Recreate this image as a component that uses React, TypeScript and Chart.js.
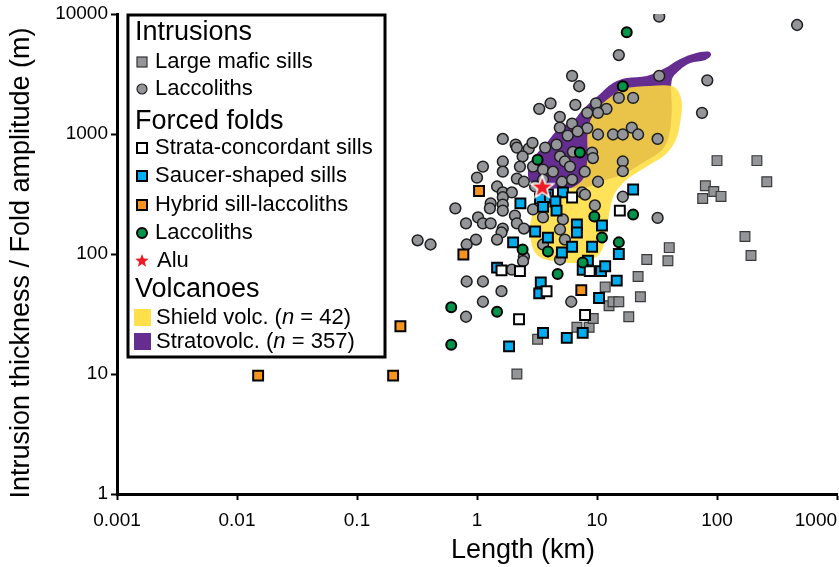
import React, { useEffect, useRef } from 'react';
import { Chart, registerables } from 'chart.js';
Chart.register(...registerables);

const FONT = "'Liberation Sans', Arial, Helvetica, sans-serif";

const xTicks = [0.001, 0.01, 0.1, 1, 10, 100, 1000];
const xTickLabels = ['0.001', '0.01', '0.1', '1', '10', '100', '1000'];
const yTicks = [1, 10, 100, 1000, 10000];
const yTickLabels = ['1', '10', '100', '1000', '10000'];
const xTitle = 'Length (km)';
const yTitle = 'Intrusion thickness / Fold amplitude (m)';

// [length km, thickness m]
const largeMaficSills: [number, number][] = [
  [2.15, 10], [3.2, 19.5], [6.8, 24.5], [8.6, 24.5], [9.3, 29], [12.6, 37], [13.6, 40], [15.2, 40],
  [23, 44], [18.4, 30], [11.7, 53], [22, 65], [26, 90], [39, 88], [40, 113], [76, 290], [80, 370],
  [94, 332], [108, 302], [100, 600], [215, 600], [260, 400], [171, 140], [192, 97],
];

const intrusionLaccoliths: [number, number][] = [
  [465, 8100], [33, 9500], [15.2, 4550], [6.2, 3050], [7.1, 2500], [33, 3050], [83, 2800], [75, 1500],
  [4.1, 1800], [3.3, 1620], [6.6, 1750], [9.8, 1800], [15.2, 2000], [20, 2000], [12, 1620], [10.2, 1500],
  [8.3, 1500], [4.9, 1390], [4.9, 1130], [6.2, 1220], [8.3, 1120], [19.5, 1130],
  [1.64, 910], [2.1, 815], [2.15, 770], [2.7, 755], [2.4, 650], [1.12, 535], [1.64, 590], [1.64, 485],
  [2.28, 535], [2.15, 425], [2.46, 400], [1.0, 433], [1.47, 365], [1.64, 326], [1.95, 326], [1.64, 297],
  [1.3, 264], [1.28, 240], [1.64, 258], [1.64, 230], [0.66, 240], [1.02, 202], [0.81, 180], [1.12, 180],
  [1.3, 180], [2.07, 209], [2.15, 180], [2.46, 163], [1.64, 163], [1.6, 151], [1.47, 132], [0.98, 132],
  [0.32, 130], [0.41, 120], [0.82, 120], [2.46, 95],
  [0.82, 59], [1.12, 59], [1.6, 49], [1.12, 40], [0.81, 30], [1.95, 74], [2.42, 87], [4.92, 90], [6.1, 40],
  [5.7, 970], [6.9, 1050], [10.2, 990], [13.6, 990], [16.4, 990], [22, 990], [32, 910], [2.9, 845],
  [3.7, 770], [4.6, 815], [4.92, 650], [6.3, 710], [9.1, 700], [9.25, 630], [16.4, 590], [16.4, 490],
  [2.93, 535], [3.55, 505], [4.3, 485], [5.4, 590], [5.96, 535], [7.9, 485], [5.1, 400], [6.2, 417],
  [3.55, 417], [10.2, 400], [3.05, 365], [7.5, 326], [7.95, 313], [16.4, 300], [2.93, 235], [9.6, 254],
  [32, 200], [3.55, 202], [5.2, 194], [4.92, 160], [5.4, 132], [3.55, 120],
];

const strataConcordantSills: [number, number][] = [
  [6.2, 296], [15.5, 230], [2.24, 28.6], [1.6, 73], [2.28, 72], [8.7, 72], [3.8, 49], [7.95, 31],
];

const saucerShapedSills: [number, number][] = [
  [2.3, 264], [2.0, 125], [1.47, 77], [1.85, 17], [8.4, 88], [7.6, 74], [10.8, 72], [11.7, 79],
  [3.4, 58], [3.3, 47], [14.6, 60], [10.4, 43], [7.6, 22], [5.6, 20], [3.55, 22], [5.2, 326],
  [3.9, 313], [20, 345], [3.7, 296], [3.35, 290], [4.5, 274], [3.55, 247], [4.6, 230], [11, 173],
  [6.8, 176], [6.8, 151], [3.05, 154], [3.9, 137], [6.2, 115], [9.1, 115], [5.1, 103], [15.2, 100],
];

const hybridSillLaccoliths: [number, number][] = [
  [0.015, 9.7], [0.2, 9.7], [0.23, 25], [0.77, 99], [1.04, 335], [7.4, 50],
];

const forcedFoldLaccoliths: [number, number][] = [
  [17.7, 7050], [16.4, 2500], [7.2, 700], [3.2, 610], [9.5, 205], [20, 213], [11, 137], [15.2, 125],
  [3.9, 105], [7.6, 85], [4.7, 68], [2.4, 109], [0.61, 36], [1.47, 33], [0.61, 17.5],
];

const alu: [number, number][] = [[3.5, 365]];

// Outlines of the volcano fields (length km, height m)
const stratovolcanoOutline: [number, number][] = [
  [6.3, 1250], [7.6, 1590], [10, 2040], [13.6, 2660], [17.7, 2930], [26, 3050], [37, 3550], [49, 4200],
  [66, 4720], [86, 4850], [89, 4500], [80, 4140], [60, 3900], [49, 3420], [42, 2820], [42, 1590],
  [40, 990], [35, 740], [24, 577], [16.4, 459], [10.6, 401], [8.7, 365], [4.9, 351], [3.35, 358],
  [2.77, 401], [2.66, 486], [2.87, 611], [3.7, 814], [4.9, 1130], [6.3, 1250],
];

const shieldOutline: [number, number][] = [
  [16.4, 2420], [27.7, 2510], [42, 2510], [48, 2240], [51, 1750], [49, 1200], [45.5, 896], [37, 672],
  [25, 524], [17.7, 417], [13.9, 313], [12.6, 213], [11.7, 132], [10.2, 97], [7.2, 85], [4.46, 87],
  [3.2, 97], [2.8, 132], [2.9, 213], [3.7, 285], [5.4, 332], [7.6, 417], [8.3, 611], [8.4, 1090],
  [9.6, 1530], [12.1, 1930], [16.4, 2420],
];

const COLORS = {
  gray: '#939598',
  blue: '#00AEEF',
  orange: '#F7941D',
  green: '#00934A',
  red: '#ED1C24',
  purple: '#662D91',
  yellow: 'rgba(255,221,60,0.86)',
};

const toPts = (a: [number, number][]) => a.map(([x, y]) => ({ x, y }));

function starPath(ctx: CanvasRenderingContext2D, cx: number, cy: number, R: number, r: number) {
  ctx.beginPath();
  for (let i = 0; i < 10; i++) {
    const ang = -Math.PI / 2 + (i * Math.PI) / 5;
    const rad = i % 2 === 0 ? R : r;
    const px = cx + rad * Math.cos(ang);
    const py = cy + rad * Math.sin(ang);
    if (i === 0) ctx.moveTo(px, py);
    else ctx.lineTo(px, py);
  }
  ctx.closePath();
}

function makeStar(size: number, R: number, r: number) {
  const c = document.createElement('canvas');
  c.width = size;
  c.height = size;
  const g = c.getContext('2d')!;
  starPath(g, size / 2, size / 2 + 1, R, r);
  g.fillStyle = COLORS.red;
  g.fill();
  g.lineWidth = 1.6;
  g.strokeStyle = '#fff';
  g.stroke();
  return c;
}

type Row = { kind: string; text: string; italicN?: string };
const legendRows: Row[] = [
  { kind: 'header', text: 'Intrusions' },
  { kind: 'graySquare', text: 'Large mafic sills' },
  { kind: 'grayCircle', text: 'Laccoliths' },
  { kind: 'header', text: 'Forced folds' },
  { kind: 'whiteSquare', text: 'Strata-concordant sills' },
  { kind: 'blueSquare', text: 'Saucer-shaped sills' },
  { kind: 'orangeSquare', text: 'Hybrid sill-laccoliths' },
  { kind: 'greenCircle', text: 'Laccoliths' },
  { kind: 'star', text: 'Alu' },
  { kind: 'header', text: 'Volcanoes' },
  { kind: 'yellowPatch', text: 'Shield volc. (', italicN: ' = 42)' },
  { kind: 'purplePatch', text: 'Stratovolc. (', italicN: ' = 357)' },
];
const rowY = [33, 62, 89, 122, 148, 176, 205, 233, 261, 290, 318, 342];

const titlesPlugin = {
  id: 'axisTitles',
  afterDraw(chart: any) {
    const ctx: CanvasRenderingContext2D = chart.ctx;
    ctx.save();
    ctx.fillStyle = '#000';
    ctx.font = `27px ${FONT}`;
    ctx.textAlign = 'center';
    ctx.textBaseline = 'middle';
    ctx.fillText(xTitle, 523, 551);
    ctx.translate(22, 263);
    ctx.rotate(-Math.PI / 2);
    ctx.fillText(yTitle, 0, 0);
    ctx.restore();
  },
};

const legendPlugin = {
  id: 'groupLegend',
  afterDraw(chart: any) {
    const ctx: CanvasRenderingContext2D = chart.ctx;
    ctx.save();
    const bx = 128, by = 15, bw = 257, bh = 342;
    ctx.fillStyle = '#fff';
    ctx.fillRect(bx, by, bw, bh);
    ctx.lineWidth = 3;
    ctx.strokeStyle = '#000';
    ctx.strokeRect(bx, by, bw, bh);
    ctx.textBaseline = 'middle';
    ctx.textAlign = 'left';
    const mx = 142, tx = 155;
    legendRows.forEach((row, i) => {
      const y = rowY[i];
      if (row.kind === 'header') {
        ctx.fillStyle = '#000';
        ctx.font = `27px ${FONT}`;
        ctx.fillText(row.text, 135, y);
        return;
      }
      const sq = (fill: string, stroke: string, lw: number) => {
        ctx.fillStyle = fill;
        ctx.fillRect(mx - 5, y - 5, 10, 10);
        ctx.lineWidth = lw;
        ctx.strokeStyle = stroke;
        ctx.strokeRect(mx - 5, y - 5, 10, 10);
      };
      const circ = (fill: string, stroke: string, lw: number) => {
        ctx.beginPath();
        ctx.arc(mx, y, 5, 0, Math.PI * 2);
        ctx.fillStyle = fill;
        ctx.fill();
        ctx.lineWidth = lw;
        ctx.strokeStyle = stroke;
        ctx.stroke();
      };
      let textX = tx;
      switch (row.kind) {
        case 'graySquare': sq(COLORS.gray, '#333', 1.2); break;
        case 'grayCircle': circ(COLORS.gray, '#222', 1.2); break;
        case 'whiteSquare': sq('#fff', '#000', 2); break;
        case 'blueSquare': sq(COLORS.blue, '#000', 2); break;
        case 'orangeSquare': sq(COLORS.orange, '#000', 2); break;
        case 'greenCircle': circ(COLORS.green, '#000', 2); break;
        case 'star':
          starPath(ctx, mx, y, 7, 3);
          ctx.fillStyle = COLORS.red;
          ctx.fill();
          textX = 157;
          break;
        case 'yellowPatch':
          ctx.fillStyle = '#FFE04B';
          ctx.fillRect(134, y - 9, 17, 17);
          textX = 156;
          break;
        case 'purplePatch':
          ctx.fillStyle = COLORS.purple;
          ctx.fillRect(134, y - 9, 17, 17);
          textX = 156;
          break;
      }
      ctx.fillStyle = '#000';
      ctx.font = `22px ${FONT}`;
      ctx.fillText(row.text, textX, y);
      if (row.italicN) {
        let w = ctx.measureText(row.text).width;
        ctx.font = `italic 22px ${FONT}`;
        ctx.fillText('n', textX + w, y);
        w += ctx.measureText('n').width;
        ctx.font = `22px ${FONT}`;
        ctx.fillText(row.italicN, textX + w, y);
      }
    });
    ctx.restore();
  },
};

export default function App() {
  const ref = useRef<HTMLCanvasElement | null>(null);
  useEffect(() => {
    document.body.style.margin = '0';
    const canvas = ref.current!;
    const star = makeStar(26, 12, 5);
    const tickFont = { family: FONT, size: 19 };
    const chart = new Chart(canvas, {
      type: 'scatter',
      data: {
        datasets: [
          {
            label: 'Stratovolc.', data: toPts(stratovolcanoOutline), showLine: true, fill: 'shape',
            backgroundColor: COLORS.purple, borderColor: 'rgba(0,0,0,0)', borderWidth: 0, pointRadius: 0,
            tension: 0.35, order: 9,
          },
          {
            label: 'Shield volc.', data: toPts(shieldOutline), showLine: true, fill: 'shape',
            backgroundColor: COLORS.yellow, borderColor: 'rgba(0,0,0,0)', borderWidth: 0, pointRadius: 0,
            tension: 0.35, order: 8,
          },
          {
            label: 'Large mafic sills', data: toPts(largeMaficSills), pointStyle: 'rect', pointRadius: 6.9,
            backgroundColor: COLORS.gray, borderColor: '#3a3a3a', borderWidth: 1.2, order: 7,
          },
          {
            label: 'Laccoliths (intrusions)', data: toPts(intrusionLaccoliths), pointStyle: 'circle', pointRadius: 5.4,
            backgroundColor: COLORS.gray, borderColor: '#1e1e1e', borderWidth: 1.5, order: 6,
          },
          {
            label: 'Saucer-shaped sills', data: toPts(saucerShapedSills), pointStyle: 'rect', pointRadius: 7,
            backgroundColor: COLORS.blue, borderColor: '#000', borderWidth: 2, order: 5,
          },
          {
            label: 'Strata-concordant sills', data: toPts(strataConcordantSills), pointStyle: 'rect', pointRadius: 7,
            backgroundColor: '#fff', borderColor: '#000', borderWidth: 2, order: 4,
          },
          {
            label: 'Hybrid sill-laccoliths', data: toPts(hybridSillLaccoliths), pointStyle: 'rect', pointRadius: 7,
            backgroundColor: COLORS.orange, borderColor: '#000', borderWidth: 2, order: 3,
          },
          {
            label: 'Laccoliths (forced folds)', data: toPts(forcedFoldLaccoliths), pointStyle: 'circle', pointRadius: 5,
            backgroundColor: COLORS.green, borderColor: '#000', borderWidth: 2, order: 2,
          },
          {
            label: 'Alu', data: toPts(alu), pointStyle: star as any, pointRadius: 12, order: 1,
          },
        ],
      },
      options: {
        animation: false,
        responsive: false,
        events: [],
        layout: { autoPadding: false, padding: { top: 14, right: 2, left: 0, bottom: 0 } },
        plugins: { legend: { display: false }, tooltip: { enabled: false } },
        scales: {
          x: {
            type: 'logarithmic', min: 0.001, max: 1000,
            afterBuildTicks: (s: any) => { s.ticks = xTicks.map((v) => ({ value: v })); },
            afterFit: (s: any) => { s.height = 73; s.paddingLeft = 0; s.paddingRight = 0; },
            ticks: {
              callback: (_v: any, i: number) => xTickLabels[i] + (i === xTickLabels.length - 1 ? '        ' : ''),
              font: tickFont, color: '#000', maxRotation: 0, autoSkip: false, padding: 9,
            },
            grid: { drawOnChartArea: false, drawTicks: true, tickLength: 6, tickWidth: 2, tickColor: '#000' },
            border: { display: true, color: '#000', width: 3 },
            title: { display: false, text: xTitle },
          },
          y: {
            type: 'logarithmic', min: 1, max: 10000,
            afterBuildTicks: (s: any) => { s.ticks = yTicks.map((v) => ({ value: v })); },
            afterFit: (s: any) => { s.width = 117; s.paddingTop = 0; s.paddingBottom = 0; },
            ticks: {
              callback: (_v: any, i: number) => yTickLabels[i],
              font: tickFont, color: '#000', autoSkip: false, padding: 3,
            },
            grid: { drawOnChartArea: false, drawTicks: true, tickLength: 6, tickWidth: 2, tickColor: '#000' },
            border: { display: true, color: '#000', width: 3 },
            title: { display: false, text: yTitle },
          },
        },
      } as any,
      plugins: [titlesPlugin, legendPlugin],
    });
    return () => chart.destroy();
  }, []);
  return (
    <div style={{ width: 839, height: 567 }}>
      <canvas ref={ref} width={839} height={567} />
    </div>
  );
}
